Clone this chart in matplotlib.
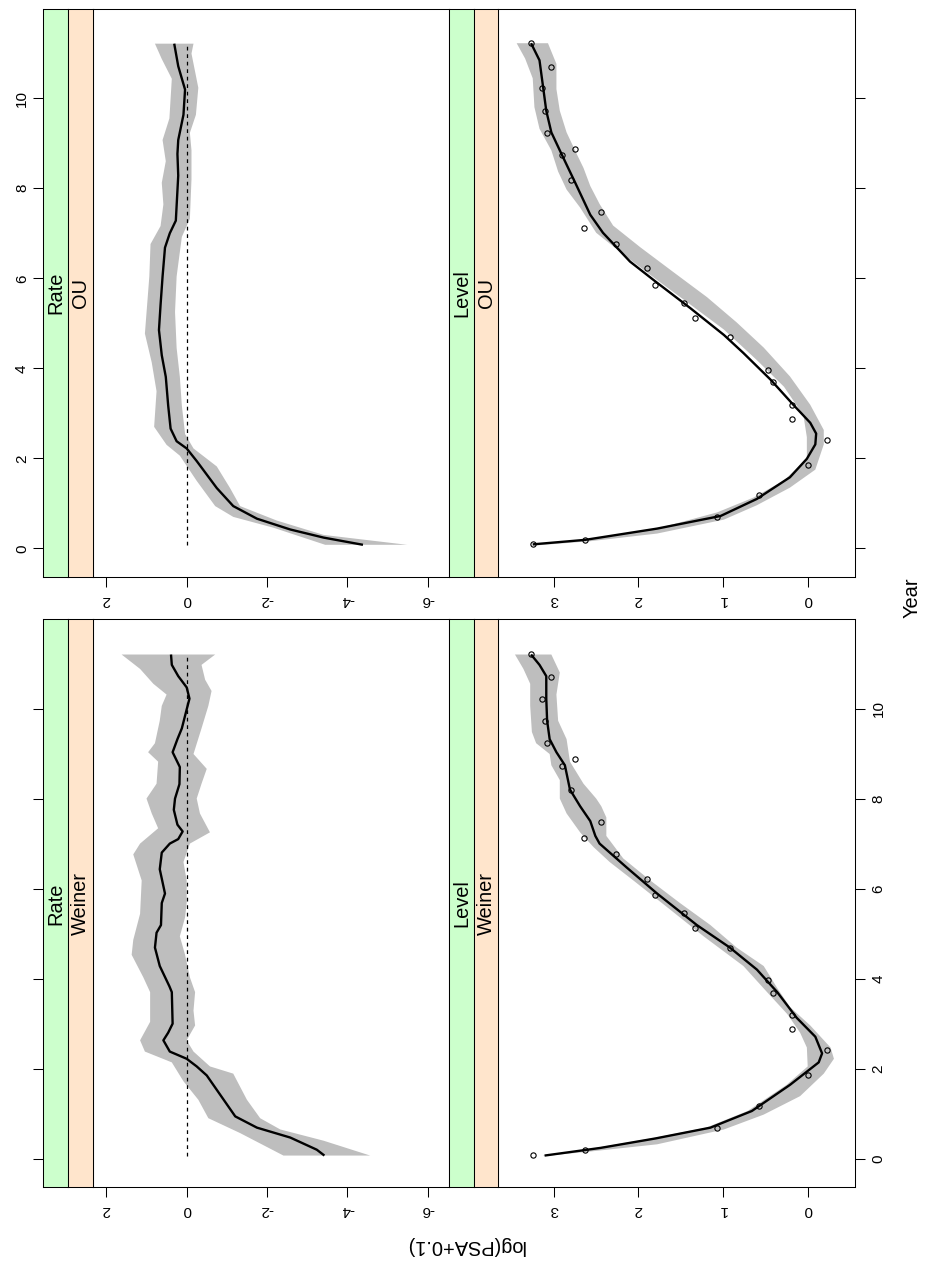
import numpy as np
import matplotlib
matplotlib.use("Agg")
import matplotlib.pyplot as plt

plt.rcParams['font.family'] = ['Liberation Sans', 'DejaVu Sans']
plt.rcParams['axes.unicode_minus'] = False

# ---------------------------------------------------------------- data
# observed log(PSA+0.1) values
obs_year = [0.09, 0.19, 0.69, 1.18, 1.85, 2.41, 2.88, 3.19, 3.69, 3.96, 4.69, 5.12, 5.45,
            5.86, 6.22, 6.77, 7.12, 7.47, 8.19, 8.73, 8.88, 9.23, 9.72, 10.22, 10.69, 11.22]
obs_val = [3.25, 2.63, 1.07, 0.58, 0.00, -0.23, 0.18, 0.18, 0.41, 0.47, 0.92, 1.33, 1.46,
           1.80, 1.90, 2.26, 2.64, 2.44, 2.80, 2.91, 2.75, 3.08, 3.10, 3.14, 3.03, 3.27]

# Level, Weiner process
lw_year = [0.07, 0.24, 0.45, 0.69, 1.06, 1.64, 2.14, 2.34, 2.71, 3.13, 3.70, 4.20, 4.69, 5.19,
           5.89, 6.47, 7.00, 7.17, 7.50, 7.83, 8.20, 8.74, 9.03, 9.32, 9.73, 10.22, 10.72,
           10.97, 11.20]
lw_val = [3.11, 2.45, 1.80, 1.15, 0.66, 0.21, -0.13, -0.17, -0.09, 0.13, 0.36, 0.60, 0.92, 1.31,
          1.78, 2.14, 2.46, 2.51, 2.57, 2.69, 2.81, 2.87, 2.97, 3.05, 3.08, 3.09, 3.09, 3.17, 3.27]
lw_hi_year = [0.07, 0.24, 0.45, 0.69, 1.06, 1.64, 2.05, 2.47, 2.80, 3.21, 3.70, 4.28, 4.94,
              5.60, 6.18, 6.59, 6.92, 7.25, 7.67, 8.00, 8.41, 8.74, 8.99, 9.23, 9.48, 10.06,
              10.55, 10.88, 11.20]
lw_hi = [3.13, 2.50, 1.85, 1.20, 0.71, 0.25, 0.00, 0.01, 0.09, 0.24, 0.48, 0.76, 1.23, 1.67,
         2.06, 2.34, 2.53, 2.69, 2.85, 2.93, 2.93, 3.03, 3.05, 3.21, 3.26, 3.28, 3.28, 3.36, 3.46]
lw_lo_year = [0.06, 0.16, 0.32, 0.65, 0.98, 1.39, 1.89, 2.22, 2.47, 2.96, 3.37, 3.79, 4.28, 4.69,
              5.19, 5.68, 6.18, 6.67, 7.17, 7.58, 7.83, 8.00, 8.33, 8.82, 9.32, 9.73, 10.31,
              10.80, 11.20]
lw_lo = [3.11, 2.57, 1.78, 0.99, 0.52, 0.09, -0.19, -0.31, -0.27, -0.03, 0.21, 0.36, 0.52, 0.84,
         1.15, 1.51, 1.86, 2.18, 2.38, 2.38, 2.44, 2.50, 2.65, 2.81, 2.85, 2.95, 2.97, 2.93, 3.03]

# Level, OU process
lo_year = [0.09, 0.19, 0.44, 0.72, 1.10, 1.58, 1.99, 2.31, 2.55, 2.79, 3.19, 3.75, 4.34, 4.74,
           5.34, 5.90, 6.37, 7.01, 7.41, 8.13, 8.76, 9.24, 9.72, 10.28, 10.84, 11.22]
lo_val = [3.25, 2.63, 1.78, 1.03, 0.60, 0.21, 0.01, -0.09, -0.10, -0.03, 0.17, 0.44, 0.76, 0.99,
          1.39, 1.78, 2.10, 2.42, 2.57, 2.75, 2.91, 3.03, 3.09, 3.13, 3.17, 3.27]
lo_hi_year = [0.09, 0.20, 0.44, 0.80, 1.13, 1.51, 1.99, 2.47, 2.95, 3.59, 4.18, 4.86, 5.42, 5.96,
              6.53, 7.01, 7.57, 7.97, 8.37, 8.84, 9.32, 9.80, 10.44, 10.88, 11.22]
lo_hi = [3.25, 2.57, 1.78, 1.07, 0.64, 0.28, 0.01, 0.01, 0.05, 0.28, 0.60, 0.99, 1.39, 1.78,
         2.18, 2.50, 2.69, 2.85, 2.95, 3.03, 3.17, 3.23, 3.25, 3.34, 3.44]
lo_lo_year = [0.06, 0.16, 0.33, 0.64, 0.96, 1.35, 1.75, 2.31, 2.63, 3.19, 3.82, 4.46, 5.02, 5.58,
              6.14, 6.69, 7.17, 7.65, 8.05, 8.45, 8.76, 9.24, 9.72, 10.20, 10.76, 11.22]
lo_lo = [3.25, 2.57, 1.78, 0.99, 0.60, 0.21, -0.09, -0.19, -0.19, -0.03, 0.21, 0.52, 0.84, 1.19,
         1.59, 1.98, 2.30, 2.46, 2.57, 2.65, 2.73, 2.85, 2.93, 2.97, 2.97, 3.07]

# Rate, Weiner process
rw_year = [0.07, 0.20, 0.47, 0.69, 0.94, 1.85, 2.05, 2.22, 2.38, 2.63, 2.80, 3.00, 3.70, 3.83,
           4.28, 4.69, 5.02, 5.19, 5.68, 5.89, 6.43, 6.80, 7.00, 7.10, 7.27, 7.42, 7.75, 8.00,
           8.32, 8.70, 9.03, 9.32, 9.56, 9.98, 10.22, 10.47, 10.72, 10.97, 11.20]
rw_val = [-3.43, -3.24, -2.58, -1.75, -1.21, -0.50, -0.25, 0.00, 0.42, 0.58, 0.46, 0.35, 0.37,
          0.43, 0.67, 0.79, 0.75, 0.64, 0.62, 0.54, 0.67, 0.62, 0.42, 0.21, 0.10, 0.23, 0.32,
          0.29, 0.18, 0.17, 0.35, 0.23, 0.12, 0.00, -0.07, 0.00, 0.21, 0.37, 0.39]
rw_hi_year = [0.07, 0.57, 0.90, 1.31, 1.72, 2.14, 2.38, 2.63, 3.04, 3.70, 4.03, 4.53, 4.86, 5.44,
              6.18, 6.76, 7.00, 7.34, 7.67, 8.00, 8.33, 8.82, 9.03, 9.23, 9.73, 10.06, 10.31,
              10.55, 10.88, 11.20]
rw_hi = [-2.41, -1.33, -0.54, -0.29, 0.08, 0.37, 1.04, 1.16, 0.91, 0.91, 1.08, 1.37, 1.33, 1.16,
         1.12, 1.33, 1.16, 0.71, 0.87, 1.00, 0.75, 0.71, 0.96, 0.79, 0.67, 0.62, 0.50, 0.83,
         1.16, 1.62]
rw_lo_year = [0.07, 0.40, 0.65, 0.90, 1.31, 1.89, 2.05, 2.38, 2.63, 2.96, 3.29, 3.70, 4.03, 4.53,
              4.94, 5.36, 5.68, 6.18, 6.59, 7.00, 7.25, 7.67, 8.00, 8.33, 8.66, 8.99, 9.56,
              10.06, 10.39, 10.64, 10.97, 11.20]
rw_lo = [-4.57, -3.41, -2.33, -1.83, -1.50, -1.16, -0.58, -0.17, 0.00, -0.21, -0.17, -0.21,
         -0.08, 0.04, 0.17, 0.04, 0.00, 0.00, 0.08, -0.08, -0.58, -0.33, -0.25, -0.37, -0.50,
         -0.17, -0.37, -0.54, -0.62, -0.46, -0.37, -0.71]

# Rate, OU process
ro_year = [0.08, 0.24, 0.42, 0.66, 0.94, 1.34, 1.94, 2.22, 2.38, 2.66, 3.17, 3.81, 4.29, 4.85,
           5.41, 6.04, 6.68, 7.00, 7.28, 8.28, 8.76, 9.07, 9.63, 10.19, 10.71, 11.21]
ro_val = [-4.39, -3.41, -2.58, -1.75, -1.16, -0.75, -0.25, 0.00, 0.25, 0.40, 0.46, 0.52, 0.62,
          0.69, 0.65, 0.60, 0.54, 0.42, 0.27, 0.21, 0.23, 0.21, 0.08, 0.04, 0.21, 0.31]
ro_hi_year = [0.08, 0.46, 0.70, 0.94, 1.50, 2.06, 2.30, 2.70, 3.49, 4.13, 4.77, 6.04, 6.76, 7.16,
              7.64, 8.12, 8.60, 9.07, 9.55, 10.43, 10.87, 11.21]
ro_hi = [-3.45, -2.16, -1.16, -0.71, -0.25, 0.17, 0.50, 0.81, 0.75, 0.87, 1.04, 0.93, 0.90, 0.65,
         0.58, 0.62, 0.52, 0.60, 0.43, 0.37, 0.62, 0.79]
ro_lo_year = [0.08, 0.30, 0.62, 0.94, 1.34, 1.82, 2.22, 2.54, 3.17, 3.81, 4.45, 5.25, 6.04, 6.92,
              7.32, 8.20, 8.84, 9.23, 9.63, 10.23, 10.99, 11.21]
ro_lo = [-5.49, -3.41, -2.24, -1.33, -1.08, -0.75, -0.17, 0.04, 0.12, 0.17, 0.25, 0.29, 0.25,
         0.12, -0.08, -0.12, -0.12, -0.08, -0.23, -0.29, -0.12, -0.17]

rate_ticks = [2, 0, -2, -4, -6]
rate_labels = ["2", "0", "-2", "-4", "-6"]
level_ticks = [3, 2, 1, 0]
level_labels = ["3", "2", "1", "0"]
year_ticks = [0, 2, 4, 6, 8, 10]
year_labels = ["0", "2", "4", "6", "8", "10"]

# ---------------------------------------------------------------- layout (pixels)
W, H = 928, 1262
fig = plt.figure(figsize=(W / 100, H / 100), dpi=100)


def rect(x0, y0, x1, y1):
    return [x0 / W, 1 - y1 / H, (x1 - x0) / W, (y1 - y0) / H]


COL_SPAN = {"OU": (9.0, 577.0), "Weiner": (619.4, 1187.3)}
ROW_SPAN = {"Rate": (43.3, 68.3, 92.7, 449.3), "Level": (449.3, 474.0, 498.3, 855.0)}
VAL_LIM = {"Rate": (2.34, -6.54), "Level": (3.657, -0.559)}
YEAR_LIM = (-0.635, 11.98)

GREEN = "#CCFFCC"
PEACH = "#FFE5CC"
BAND = "#BEBEBE"
EDGE_LW = 0.75
TICK_LEN = 7.2
TICK_FS = 11
STRIP_FS = 14.4

panels = {
    ("Rate", "Weiner"): (rw_year, rw_val, rw_hi_year, rw_hi, rw_lo_year, rw_lo),
    ("Rate", "OU"): (ro_year, ro_val, ro_hi_year, ro_hi, ro_lo_year, ro_lo),
    ("Level", "Weiner"): (lw_year, lw_val, lw_hi_year, lw_hi, lw_lo_year, lw_lo),
    ("Level", "OU"): (lo_year, lo_val, lo_hi_year, lo_hi, lo_lo_year, lo_lo),
}


def style_spines(ax):
    for s in ax.spines.values():
        s.set_linewidth(EDGE_LW)
        s.set_color("black")


for (row, col), (yr, val, hy, hv, ly, lv) in panels.items():
    x_box, x_s2, x_data, x_end = ROW_SPAN[row]
    y0, y1 = COL_SPAN[col]

    ax = fig.add_axes(rect(x_data, y0, x_end, y1))
    ax.set_xlim(*VAL_LIM[row])
    ax.set_ylim(*YEAR_LIM)
    style_spines(ax)

    # confidence band
    band_x = np.concatenate([hv, lv[::-1]])
    band_y = np.concatenate([hy, ly[::-1]])
    ax.fill(band_x, band_y, color=BAND, lw=0, zorder=1)

    if row == "Rate":
        ax.plot([0, 0], [yr[0], yr[-1]], color="black", lw=0.9,
                ls=(0, (3, 3)), zorder=2)
    ax.plot(val, yr, color="black", lw=1.7, zorder=3, solid_capstyle="butt")
    if row == "Level":
        ax.plot(obs_val, obs_year, "o", mfc="none", mec="black", ms=3.8,
                mew=0.8, zorder=4)

    ticks = rate_ticks if row == "Rate" else level_ticks
    labels = rate_labels if row == "Rate" else level_labels
    ax.set_xticks(ticks)
    ax.set_xticklabels(labels, rotation=180, fontsize=TICK_FS)
    ax.tick_params(axis="x", direction="out", length=TICK_LEN, width=EDGE_LW,
                   pad=4.3, top=False, bottom=True)

    if row == "Level":
        ax.yaxis.tick_right()
        ax.set_yticks(year_ticks)
        if col == "Weiner":
            ax.set_yticklabels(year_labels, rotation=90, va="center", fontsize=TICK_FS)
        else:
            ax.set_yticklabels([])
        ax.tick_params(axis="y", direction="out", length=TICK_LEN, width=EDGE_LW,
                       pad=4.7, left=False, right=True)
    else:
        ax.set_yticks([])

    # strips
    sg = fig.add_axes(rect(x_box, y0, x_s2, y1))
    sg.set_facecolor(GREEN)
    sg.set_xlim(0, 1)
    sg.set_ylim(*YEAR_LIM)
    sg.set_xticks([])
    style_spines(sg)
    if row == "Rate":
        sg.set_yticks(year_ticks)
        if col == "OU":
            sg.set_yticklabels(year_labels, rotation=90, va="center", fontsize=TICK_FS)
        else:
            sg.set_yticklabels([])
        sg.tick_params(axis="y", direction="out", length=TICK_LEN, width=EDGE_LW, pad=3.1)
    else:
        sg.set_yticks([])
    sg.text(0.5, 0.5, row, transform=sg.transAxes, rotation=90, ha="center",
            va="center", fontsize=STRIP_FS)

    so = fig.add_axes(rect(x_s2, y0, x_data, y1))
    so.set_facecolor(PEACH)
    so.set_xticks([])
    so.set_yticks([])
    style_spines(so)
    so.text(0.5, 0.5, col, transform=so.transAxes, rotation=90, ha="center",
            va="center", fontsize=STRIP_FS)

fig.text(912 / W, 1 - 598 / H, "Year", rotation=90, ha="center", va="center",
         fontsize=STRIP_FS)
fig.text(465 / W, 1 - 1245 / H, "log(PSA+0.1)", rotation=180, ha="center",
         va="center", fontsize=STRIP_FS)

fig.savefig("out.png", dpi=100)
